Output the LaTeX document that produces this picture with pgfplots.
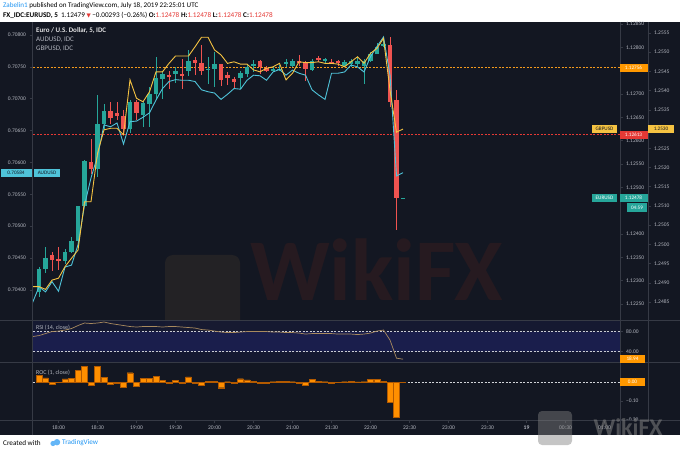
\documentclass[border=0pt]{standalone}
\usepackage{fontspec}
\setmainfont{Carlito}
\newfontfamily\symfont{DejaVu Sans}
\usepackage{pgfplots}
\usepackage{pgfplotstable}
\pgfplotsset{compat=1.18}

\definecolor{tvbg}{HTML}{131722}
\definecolor{tvline}{HTML}{363A45}
\definecolor{tvtext}{HTML}{B2B5BE}
\definecolor{tvup}{HTML}{26A69A}
\definecolor{tvdown}{HTML}{EF5350}
\definecolor{audc}{HTML}{4FC3D9}
\definecolor{gbpc}{HTML}{F5C342}
\definecolor{hiorange}{HTML}{FF9800}
\definecolor{hidot}{HTML}{F59A1C}
\definecolor{lored}{HTML}{E53935}
\definecolor{rsic}{HTML}{A88A5E}
\definecolor{rsiband}{HTML}{1B1F4F}
\definecolor{rsibg}{HTML}{161A33}
\definecolor{rocc}{HTML}{FF8F00}
\definecolor{rocedge}{HTML}{B35A00}
\definecolor{tvblue}{HTML}{2196F3}
\definecolor{hdred}{HTML}{E53935}
\definecolor{wmbox}{HTML}{232225}
\definecolor{wmtext}{HTML}{261A20}

% EURUSD 5 min candles, t = minutes after 18:00
\pgfplotstableread{
t o h l c
-15 1.12276 1.12330 1.12266 1.12326
-10 1.12326 1.12373 1.12316 1.12348
5 1.12344 1.12369 1.12337 1.12362
10 1.12361 1.12394 1.12359 1.12386
15 1.12386 1.12462 1.12373 1.12460
20 1.12460 1.12559 1.12458 1.12556
30 1.12539 1.12698 1.12523 1.12635
35 1.12635 1.12680 1.12623 1.12664
55 1.12625 1.12687 1.12616 1.12683
65 1.12657 1.12687 1.12630 1.12681
70 1.12680 1.12716 1.12630 1.12700
75 1.12700 1.12780 1.12687 1.12734
80 1.12731 1.12751 1.12691 1.12742
90 1.12743 1.12758 1.12723 1.12749
100 1.12748 1.12794 1.12737 1.12771
115 1.12753 1.12780 1.12723 1.12756
120 1.12753 1.12791 1.12716 1.12764
140 1.12734 1.12751 1.12712 1.12746
145 1.12744 1.12766 1.12737 1.12758
150 1.12761 1.12773 1.12748 1.12766
165 1.12751 1.12758 1.12748 1.12755
170 1.12753 1.12762 1.12749 1.12756
175 1.12764 1.12774 1.12758 1.12769
180 1.12761 1.12776 1.12758 1.12771
195 1.12753 1.12776 1.12751 1.12771
205 1.12771 1.12778 1.12766 1.12775
220 1.12761 1.12773 1.12758 1.12768
225 1.12764 1.12776 1.12758 1.12771
230 1.12764 1.12780 1.12758 1.12771
235 1.12760 1.12777 1.12723 1.12771
240 1.12771 1.12791 1.12769 1.12787
245 1.12788 1.12809 1.12787 1.12803
250 1.12803 1.12823 1.12801 1.12809
265 1.12478 1.12478 1.12478 1.12478
}\upcandles

\pgfplotstableread{
t o h l c
-5 1.12355 1.12362 1.12323 1.12344
0 1.12346 1.12373 1.12323 1.12343
25 1.12554 1.12605 1.12530 1.12539
40 1.12664 1.12683 1.12637 1.12650
45 1.12660 1.12683 1.12644 1.12653
50 1.12653 1.12666 1.12616 1.12625
60 1.12682 1.12687 1.12644 1.12660
85 1.12742 1.12751 1.12712 1.12737
95 1.12744 1.12776 1.12712 1.12741
105 1.12773 1.12780 1.12741 1.12767
110 1.12767 1.12805 1.12741 1.12750
125 1.12764 1.12766 1.12719 1.12731
130 1.12741 1.12748 1.12719 1.12734
135 1.12734 1.12737 1.12712 1.12726
155 1.12771 1.12773 1.12744 1.12757
160 1.12757 1.12760 1.12748 1.12751
185 1.12771 1.12784 1.12762 1.12767
190 1.12767 1.12773 1.12730 1.12753
200 1.12778 1.12781 1.12769 1.12773
210 1.12769 1.12776 1.12766 1.12768
215 1.12771 1.12774 1.12762 1.12767
255 1.12805 1.12823 1.12673 1.12683
260 1.12687 1.12709 1.12409 1.12478
}\downcandles

\pgfplotstableread{
t v
-20 0.70380
-15 0.70405
-10 0.70397
-5 0.70413
0 0.70398
5 0.70436
10 0.70439
15 0.70471
20 0.70533
25 0.70576
30 0.70610
35 0.70659
40 0.70656
45 0.70662
50 0.70629
55 0.70664
60 0.70665
65 0.70671
70 0.70678
75 0.70698
80 0.70716
85 0.70727
90 0.70730
95 0.70729
100 0.70729
105 0.70727
110 0.70714
115 0.70711
120 0.70709
125 0.70699
130 0.70707
135 0.70716
140 0.70715
145 0.70729
150 0.70737
155 0.70736
160 0.70729
165 0.70742
170 0.70746
175 0.70737
180 0.70745
185 0.70740
190 0.70737
195 0.70714
200 0.70706
205 0.70699
210 0.70740
215 0.70740
220 0.70742
225 0.70753
230 0.70750
235 0.70742
240 0.70766
245 0.70782
250 0.70797
255 0.70737
260 0.70579
265 0.70584
}\audusd

\pgfplotstableread{
t v
-20 1.24890
-15 1.24890
-10 1.24883
-5 1.24907
0 1.24912
5 1.24942
10 1.24964
15 1.24985
20 1.25111
25 1.25111
30 1.25237
35 1.25298
40 1.25302
45 1.25302
50 1.25285
55 1.25428
60 1.25380
65 1.25371
70 1.25397
75 1.25449
80 1.25449
85 1.25471
90 1.25490
95 1.25490
100 1.25490
105 1.25514
110 1.25539
115 1.25539
120 1.25506
125 1.25493
130 1.25471
135 1.25475
140 1.25469
145 1.25469
150 1.25454
155 1.25449
160 1.25458
165 1.25462
170 1.25471
175 1.25428
180 1.25445
185 1.25475
190 1.25473
195 1.25473
200 1.25475
205 1.25471
210 1.25471
215 1.25469
220 1.25462
225 1.25475
230 1.25488
235 1.25471
240 1.25497
245 1.25510
250 1.25536
255 1.25402
260 1.25292
265 1.25300
}\gbpusd

\pgfplotstableread{
t v
-20 70
-15 72
-10 76
-5 80
0 81
5 83
10 86
15 92
20 97
25 96
30 97
35 99
40 96
45 94
50 92
55 90
60 89
65 90
70 90
75 90
80 89
85 90
90 90
95 89
100 88
105 87
110 84
115 83
120 81
125 79
130 78
135 78
140 79
145 80
150 80
155 80
160 80
165 79
170 79
175 78
180 78
185 77
190 75
195 76
200 76
205 76
210 76
215 75
220 75
225 75
230 74
235 75
240 77
245 81
250 83
255 63
260 27
265 25
}\rsidata

\pgfplotstableread{
t v
-15 0.037
-10 0.023
-5 -0.010
0 -0.002
5 0.017
10 0.021
15 0.062
20 0.085
25 -0.015
30 0.085
35 0.026
40 -0.012
45 -0.004
50 -0.025
55 0.050
60 -0.020
65 0.020
70 0.020
75 0.030
80 0.008
85 -0.004
90 0.010
95 -0.005
100 0.027
105 -0.006
110 -0.015
115 0.005
120 0.005
125 -0.030
130 0.002
135 -0.006
140 0.018
145 0.012
150 0.004
155 -0.006
160 -0.006
165 0.002
170 0.003
175 0.004
180 0.002
185 -0.004
190 -0.015
195 0.016
200 0.004
205 0.002
210 -0.006
215 -0.002
220 0.002
225 0.004
230 0.001
235 0.002
240 0.014
245 0.014
250 0.005
255 -0.107
260 -0.187
265 0.000
}\rocdata

\newcommand\tickfont{\fontsize{5.5}{6}\selectfont}
\newcommand\tagfont{\fontsize{5.2}{6}\selectfont}

\pgfplotsset{
  pane/.style={
    scale only axis, anchor=south west,
    xmin=-20.4, xmax=431.9,
    tick label style={font=\tickfont, text=tvtext},
    tick align=outside, major tick length=2.5pt,
    tick style={draw=tvline, line width=0.5pt},
    axis line style={draw=none},
  },
  wick/.style={draw=none, forget plot, error bars/.cd, y dir=both, y explicit,
    error mark=none, error bar style={draw=#1, line width=0.8pt, solid}},
  body/.style={draw=none, forget plot, error bars/.cd, y dir=both, y explicit,
    error mark=none, error bar style={draw=#1, line width=4.8pt, solid}},
}

\begin{document}
\begin{tikzpicture}[x=1pt, y=1pt]
\useasboundingbox (0,0) rectangle (680,453);
\fill[white] (0,0) rectangle (680,453);
\fill[tvbg] (0,18) rectangle (680,431);

% faint watermark behind the panes
\fill[wmbox, rounded corners=8pt] (165,118) rectangle (240,198);
\node[font=\fontsize{88}{90}\selectfont\bfseries, text=wmtext, anchor=west, inner sep=0pt] at (250,183) {WikiFX};

% RSI pane
\begin{axis}[pane, at={(32pt,90.3pt)}, width=588pt, height=42.2pt,
  ymin=18, ymax=102, axis x line=none, axis y line*=right,
  axis background/.style={fill=rsibg, fill opacity=0.9},
  ytick={40,80}, yticklabels={40.00,80.00}, yticklabel style={anchor=west}]
\addplot[draw=none, fill=rsiband, fill opacity=0.9] coordinates {(-25,40) (440,40) (440,80) (-25,80) (-25,40)};
\addplot[tvtext!70, dash pattern=on 2pt off 1.5pt, line width=0.5pt] coordinates {(-25,80) (440,80)};
\addplot[tvtext!70, dash pattern=on 2pt off 1.5pt, line width=0.5pt] coordinates {(-25,40) (440,40)};
\addplot[rsic, line width=0.7pt] table[x=t, y=v] {\rsidata};
\end{axis}

% ROC pane with the time scale
\begin{axis}[pane, at={(32pt,33pt)}, width=588pt, height=57.3pt,
  ymin=-0.2016, ymax=0.103, axis x line*=bottom, axis y line*=right,
  ytick={-0.2,-0.1}, yticklabels={−0.20,−0.10}, yticklabel style={anchor=west},
  xtick={0,30,...,420},
  xticklabels={18:00,18:30,19:00,19:30,20:00,20:30,21:00,21:30,22:00,22:30,23:00,23:30,{\bfseries 19},00:30,01:00},
  xticklabel style={font=\fontsize{5.6}{6}\selectfont, text=tvtext}]
\addplot[tvtext!60, dash pattern=on 2pt off 1.5pt, line width=0.5pt] coordinates {(-25,0) (440,0)};
\addplot[ybar, bar width=5.9pt, fill=rocc, draw=rocedge, line width=0.3pt] table[x=t, y=v] {\rocdata};
\end{axis}

% main pane: EURUSD candles (right scale)
\begin{axis}[pane, at={(32pt,132.5pt)}, width=588pt, height=298.5pt,
  ymin=1.122146, ymax=1.128543, axis x line=none, axis y line*=right,
  ytick={1.1225,1.123,1.1235,1.124,1.125,1.1255,1.126,1.1265,1.127,1.128,1.1285},
  yticklabels={1.12250,1.12300,1.12350,1.12400,1.12500,1.12550,1.12600,1.12650,1.12700,1.12800,1.12850},
  yticklabel style={anchor=west}]
\addplot[draw=hidot, dash pattern=on 2.2pt off 1.3pt, line width=0.9pt] coordinates {(-25,1.12756) (440,1.12756)};
\addplot[draw=lored, dash pattern=on 2pt off 1.5pt, line width=0.7pt] coordinates {(-25,1.12613) (440,1.12613)};
\addplot[wick=tvup] table[x=t, y expr={(\thisrow{h}+\thisrow{l})/2}, y error expr={(\thisrow{h}-\thisrow{l})/2}] {\upcandles};
\addplot[wick=tvdown] table[x=t, y expr={(\thisrow{h}+\thisrow{l})/2}, y error expr={(\thisrow{h}-\thisrow{l})/2}] {\downcandles};
\addplot[body=tvup] table[x=t, y expr={(\thisrow{o}+\thisrow{c})/2}, y error expr={max(abs(\thisrow{o}-\thisrow{c})/2,0.000011)}] {\upcandles};
\addplot[body=tvdown] table[x=t, y expr={(\thisrow{o}+\thisrow{c})/2}, y error expr={max(abs(\thisrow{o}-\thisrow{c})/2,0.000011)}] {\downcandles};
\end{axis}

% AUDUSD (left scale)
\begin{axis}[pane, at={(32pt,132.5pt)}, width=588pt, height=298.5pt,
  ymin=0.703521, ymax=0.708204, axis x line=none, axis y line*=left,
  ytick={0.704,0.7045,0.705,0.7055,0.706,0.7065,0.707,0.7075,0.708},
  yticklabels={0.70400,0.70450,0.70500,0.70550,0.70600,0.70650,0.70700,0.70750,0.70800},
  yticklabel style={anchor=east}]
\addplot[audc, line width=0.9pt] table[x=t, y=v] {\audusd};
\end{axis}

% GBPUSD (far right scale)
\begin{axis}[pane, at={(32pt,132.5pt)}, width=616pt, height=298.5pt,
  xmax=453.5, ymin=1.248019, ymax=1.255786, axis x line=none, axis y line*=right,
  ytick={1.2485,1.249,1.2495,1.25,1.2505,1.251,1.2515,1.252,1.2525,1.2535,1.254,1.2545,1.255,1.2555},
  yticklabels={1.2485,1.2490,1.2495,1.2500,1.2505,1.2510,1.2515,1.2520,1.2525,1.2535,1.2540,1.2545,1.2550,1.2555},
  yticklabel style={anchor=west}]
\addplot[gbpc, line width=0.9pt] table[x=t, y=v] {\gbpusd};
\end{axis}

% pane separators
\draw[tvline, line width=0.8pt] (0,132.5) -- (680,132.5);
\draw[tvline, line width=0.8pt] (0,90.3) -- (680,90.3);
\draw[tvline, line width=0.8pt] (0,33) -- (680,33);
\draw[tvline, line width=0.8pt] (32,18) -- (32,431);
\draw[tvline, line width=0.8pt] (620,18) -- (620,431);
\draw[tvline, line width=0.8pt] (648,33) -- (648,431);

% legends of the panes
\node[anchor=west, font=\fontsize{7}{8}\selectfont\bfseries, text=white!88!tvbg, inner sep=0pt] at (36,422) {Euro / U.S. Dollar, 5, IDC};
\node[anchor=west, font=\fontsize{7}{8}\selectfont, text=tvtext, inner sep=0pt] at (36,413) {AUDUSD, IDC};
\node[anchor=west, font=\fontsize{7}{8}\selectfont, text=tvtext, inner sep=0pt] at (36,404.5) {GBPUSD, IDC};
\node[anchor=west, font=\fontsize{6}{7}\selectfont, text=tvtext, inner sep=0pt] at (36,125) {RSI (14, close)};
\node[anchor=west, font=\fontsize{6}{7}\selectfont, text=tvtext, inner sep=0pt] at (36,80) {ROC (1, close)};

% price scale tags
\tikzset{tag/.style={fill=#1, inner sep=0pt, minimum height=8.5pt, font=\tagfont}}
\node[tag=audc, minimum width=31pt, text=tvbg] at (16,280) {0.70584};
\node[tag=audc, minimum width=26pt, text=tvbg] at (47,280) {AUDUSD};
\node[tag=hiorange, minimum width=28pt, text=white] at (633.5,385) {1.12756};
\node[tag=lored, minimum width=28pt, text=white] at (633.5,318) {1.12613};
\node[tag=gbpc, minimum width=25pt, text=tvbg] at (604.5,324) {GBPUSD};
\node[tag=gbpc, minimum width=26pt, text=tvbg] at (661,324) {1.2530};
\node[tag=tvup, minimum width=25pt, text=white] at (604.5,255) {EURUSD};
\node[tag=tvup, minimum width=28pt, text=white] at (633.5,255) {1.12478};
\node[tag=tvup, minimum width=20pt, text=white] at (637,245.5) {04:59};
\node[tag=hiorange, minimum width=25pt, text=white] at (632.5,93.8) {18.94};
\node[tag=hiorange, minimum width=25pt, text=white] at (632.5,71) {0.00};

% watermark
\fill[gray, opacity=0.45, rounded corners=4pt] (538,8) rectangle (572,42);
\node[font=\fontsize{24}{26}\selectfont\bfseries, text=gray, opacity=0.55] at (628,26) {WikiFX};

% header and footer
\node[anchor=west, inner sep=0pt, font=\fontsize{7.1}{8}\selectfont] at (3,447)
  {\textcolor{tvblue}{Zabelin1} published on TradingView.com, July 18, 2019 22:25:01 UTC};
\node[anchor=west, inner sep=0pt, font=\fontsize{7.2}{8}\selectfont] at (3,437.5)
  {\textbf{FX\_IDC:EURUSD, 5} \ 1.12479 \textcolor{hdred}{\symfont\fontsize{5.5}{6}\selectfont ▼} −0.00293 (−0.26\%) \textbf{O:}\textcolor{hdred}{1.12478} \textbf{H:}\textcolor{hdred}{1.12478} \textbf{L:}\textcolor{hdred}{1.12478} \textbf{C:}\textcolor{hdred}{1.12478}};
\node[anchor=west, inner sep=0pt, font=\fontsize{7.2}{8}\selectfont] at (3,10) {Created with};
\fill[tvblue!70] (53,9.5) circle (2.6);
\fill[tvblue!70] (57,10.8) circle (3.2);
\node[anchor=west, inner sep=0pt, font=\fontsize{7.2}{8}\selectfont, text=tvblue] at (62,10) {TradingView};
\end{tikzpicture}
\end{document}
